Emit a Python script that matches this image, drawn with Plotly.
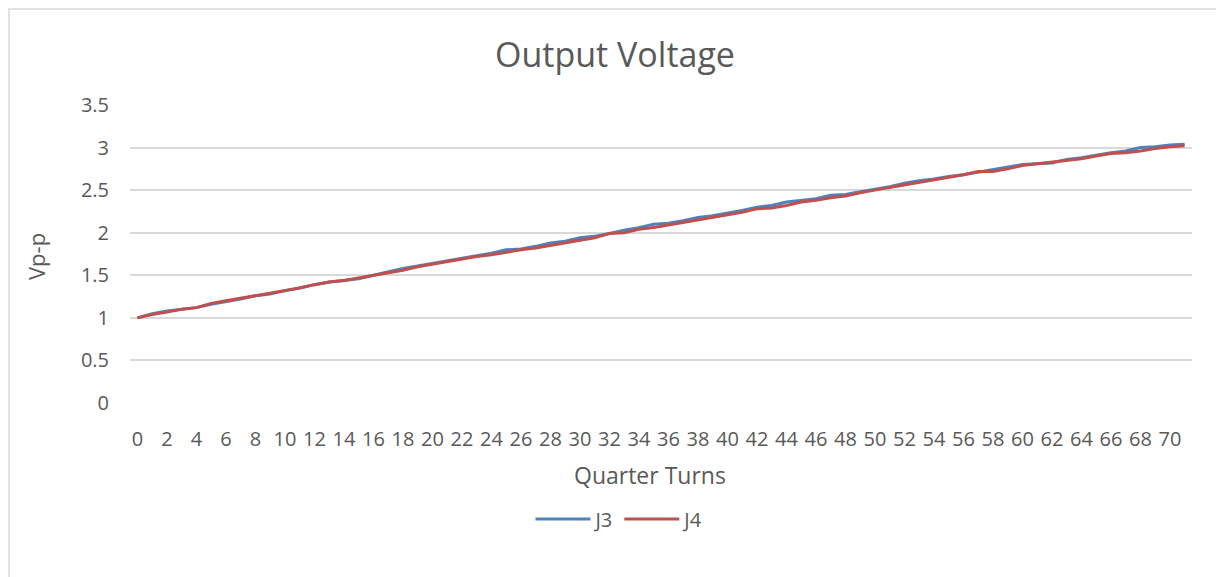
import plotly.graph_objects as go

quarter_turns = list(range(72))
j3 = [1.00, 1.05, 1.08, 1.10, 1.12, 1.16, 1.19, 1.22, 1.26, 1.28, 1.32, 1.35,
      1.39, 1.42, 1.44, 1.46, 1.50, 1.54, 1.58, 1.61, 1.64, 1.67, 1.70, 1.73,
      1.76, 1.80, 1.81, 1.84, 1.88, 1.90, 1.94, 1.96, 1.99, 2.03, 2.06, 2.10,
      2.11, 2.14, 2.18, 2.20, 2.23, 2.26, 2.30, 2.32, 2.36, 2.38, 2.40, 2.44,
      2.45, 2.48, 2.51, 2.54, 2.58, 2.61, 2.63, 2.66, 2.68, 2.71, 2.74, 2.77,
      2.80, 2.81, 2.82, 2.86, 2.88, 2.91, 2.94, 2.96, 3.00, 3.01, 3.03, 3.04]
j4 = [1.00, 1.04, 1.07, 1.10, 1.12, 1.17, 1.20, 1.23, 1.26, 1.29, 1.32, 1.35,
      1.39, 1.42, 1.44, 1.47, 1.50, 1.53, 1.56, 1.60, 1.63, 1.66, 1.69, 1.72,
      1.74, 1.77, 1.80, 1.82, 1.85, 1.88, 1.91, 1.94, 1.99, 2.00, 2.04, 2.06,
      2.09, 2.12, 2.15, 2.18, 2.21, 2.24, 2.28, 2.29, 2.32, 2.36, 2.38, 2.41,
      2.43, 2.47, 2.50, 2.53, 2.56, 2.59, 2.62, 2.65, 2.68, 2.72, 2.72, 2.75,
      2.79, 2.81, 2.83, 2.85, 2.87, 2.90, 2.93, 2.94, 2.96, 2.99, 3.01, 3.02]
x_ticks = list(range(0, 71, 2))
y_ticks = [0, 0.5, 1, 1.5, 2, 2.5, 3, 3.5]

FONT = "Open Sans"
GREY = "#595959"

# page-pixel layout helpers (figure div sits at page offset 8,8)
PL, PR, PT, PB = 130, 1192, 105, 403
W, H = PR - PL, PB - PT


def px(x):
    return (x - PL) / W


def py(y):
    return (PB - y) / H


fig = go.Figure()
fig.add_trace(go.Scatter(x=quarter_turns, y=j3, name="J3", mode="lines",
                         line=dict(color="#4F81BD", width=3)))
fig.add_trace(go.Scatter(x=quarter_turns, y=j4, name="J4", mode="lines",
                         line=dict(color="#C0504D", width=3)))

fig.update_layout(
    width=1224, height=577,
    margin=dict(l=PL - 8, r=1224 - (PR - 8), t=PT - 8, b=577 - (PB - 8)),
    paper_bgcolor="white", plot_bgcolor="white",
    font=dict(family=FONT, color=GREY, size=20),
    title=dict(text="Output Voltage", x=607 / 1224, xanchor="center",
               y=1 - 47 / 577, yanchor="middle", yref="container",
               font=dict(family=FONT, size=34, color=GREY)),
    showlegend=True,
    legend=dict(orientation="h", x=px(620), xanchor="center", y=py(519),
                yanchor="middle", font=dict(size=20, color=GREY),
                itemwidth=55, bgcolor="rgba(0,0,0,0)"),
    xaxis=dict(range=[-0.5, 71.5], tickmode="array", tickvals=x_ticks,
               ticktext=[str(t) for t in x_ticks], showgrid=False,
               zeroline=False, showline=False, ticks="",
               ticklabelstandoff=22, tickfont=dict(size=20, color=GREY)),
    yaxis=dict(range=[0, 3.5], tickmode="array", tickvals=y_ticks,
               ticktext=[str(t) for t in y_ticks], showgrid=True,
               gridcolor="#d9d9d9", gridwidth=1.5, zeroline=False,
               showline=False, ticks="", ticklabelstandoff=20,
               tickfont=dict(size=20, color=GREY)),
    shapes=[dict(type="rect", xref="paper", yref="paper",
                 x0=px(9), x1=px(1222), y0=py(640), y1=py(9),
                 line=dict(color="#d9d9d9", width=1.5),
                 fillcolor="rgba(0,0,0,0)", layer="below")],
    annotations=[
        dict(text="Quarter Turns", xref="paper", yref="paper", x=px(650),
             y=py(475), xanchor="center", yanchor="middle",
             showarrow=False, font=dict(size=23, color=GREY)),
        dict(text="Vp-p", xref="paper", yref="paper", x=px(36),
             y=py(257), xanchor="center", yanchor="middle", textangle=-90,
             showarrow=False, font=dict(size=22, color=GREY)),
    ],
)

fig.write_html("out.html")
